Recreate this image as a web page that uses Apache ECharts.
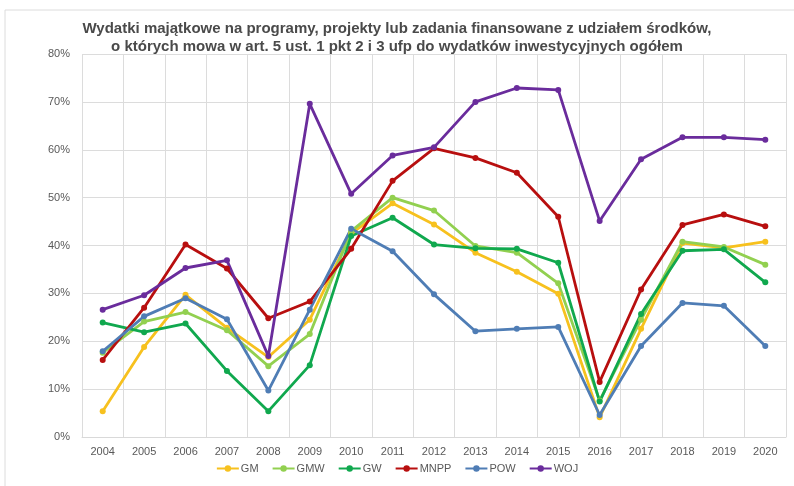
<!DOCTYPE html>
<html><head><meta charset="utf-8">
<script src="https://cdn.jsdelivr.net/npm/echarts@6/dist/echarts.min.js"></script>
<style>html,body{margin:0;padding:0;background:#fff}#c{width:794px;height:486px}</style>
</head><body><div id="c"></div>
<script>
const years = ['2004','2005','2006','2007','2008','2009','2010','2011','2012','2013','2014','2015','2016','2017','2018','2019','2020'];
const GM   = [5.4, 18.8, 29.7, 22.8, 16.7, 24.5, 42.5, 48.8, 44.4, 38.5, 34.5, 29.9, 4.1, 22.6, 40.5, 39.5, 40.8];
const GMW  = [17.6, 24.1, 26.1, 22.3, 14.8, 21.5, 43.0, 50.0, 47.3, 39.9, 38.5, 32.1, 7.6, 24.5, 40.8, 39.7, 36.0];
const GW   = [23.9, 21.9, 23.7, 13.8, 5.4, 15.0, 42.0, 45.8, 40.2, 39.4, 39.3, 36.4, 7.4, 25.7, 38.9, 39.2, 32.3];
const MNPP = [16.1, 27.0, 40.2, 35.2, 24.8, 28.3, 39.3, 53.5, 60.3, 58.3, 55.2, 46.0, 11.5, 30.8, 44.3, 46.5, 44.0];
const POW  = [17.9, 25.2, 29.0, 24.6, 9.7, 26.6, 43.5, 38.8, 29.8, 22.1, 22.6, 23.0, 4.6, 19.0, 28.0, 27.4, 19.0];
const WOJ  = [26.6, 29.6, 35.3, 36.9, 16.9, 69.6, 50.8, 58.8, 60.5, 70.0, 72.9, 72.5, 45.1, 58.0, 62.6, 62.6, 62.1];
const yTicks = [0, 10, 20, 30, 40, 50, 60, 70, 80];
const seriesNames = ['GM','GMW','GW','MNPP','POW','WOJ'];
const seriesData = [GM, GMW, GW, MNPP, POW, WOJ];
const colors = ['#F7C11E','#92D050','#10A84E','#B80F0F','#4F7DB5','#6A2C9C'];

const chart = echarts.init(document.getElementById('c'), null, {renderer:'canvas'});
chart.setOption({
  animation:false,
  backgroundColor:'#fff',
  color: colors,
  title:{
    text:'Wydatki majątkowe na programy, projekty lub zadania finansowane z udziałem środków,\no których mowa w art. 5 ust. 1 pkt 2 i 3 ufp do wydatków inwestycyjnych ogółem',
    left:'center', top:15,
    textStyle:{fontFamily:'Liberation Sans Narrow, Arial Narrow, sans-serif', fontSize:15, fontWeight:'bold', color:'#4a4a4a', lineHeight:18}
  },
  graphic:[{type:'rect', shape:{x:5,y:10,width:820,height:500}, style:{fill:'none', stroke:'#dcdcdc', lineWidth:1}, silent:true}],
  legend:{
    data: seriesNames, bottom:7, left:'center', itemWidth:22, itemHeight:8, itemGap:13,
    textStyle:{fontFamily:'Liberation Sans, sans-serif', fontSize:11, color:'#595959', padding:[0,0,0,-3]}
  },
  grid:{left:82, right:8, top:54, bottom:49},
  xAxis:{
    type:'category', data: years, boundaryGap:true,
    axisLine:{show:true, lineStyle:{color:'#d9d9d9'}}, axisTick:{show:false},
    splitLine:{show:true, lineStyle:{color:'#dcdcdc', width:1}},
    axisLabel:{color:'#595959', fontFamily:'Liberation Sans, sans-serif', fontSize:11, margin:9, interval:0}
  },
  yAxis:{
    type:'value', min:0, max:80, interval:10,
    axisLine:{show:false}, axisTick:{show:false},
    splitLine:{lineStyle:{color:'#dcdcdc', width:1}},
    axisLabel:{color:'#595959', fontFamily:'Liberation Sans, sans-serif', fontSize:11, margin:12, formatter: v => v + '%'}
  },
  series: seriesNames.map((n,i)=>({
    name:n, type:'line', data: seriesData[i], symbol:'circle', symbolSize:6,
    lineStyle:{width:2.8, color:colors[i]}, itemStyle:{color:colors[i]}
  }))
});
</script></body></html>
